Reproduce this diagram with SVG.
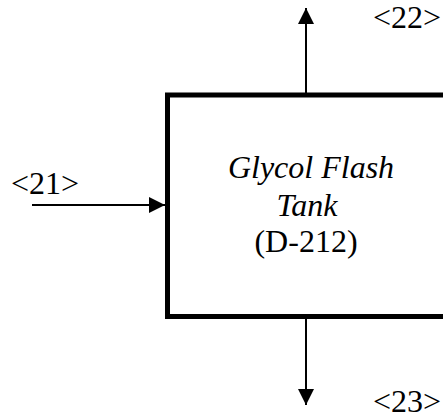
<svg xmlns="http://www.w3.org/2000/svg" width="443" height="419" viewBox="0 0 443 419">
<style>
.lbl{font-family:"Liberation Serif","Times New Roman",serif;font-size:32px;fill:#000}
.it{font-style:italic}
.conn{stroke:#000;stroke-width:2;fill:none}
.box{stroke:#000;stroke-width:5;fill:#fff}
</style>
<defs>
<marker id="ah" markerUnits="userSpaceOnUse" markerWidth="16" markerHeight="16" viewBox="0 0 16 16" refX="16" refY="8" orient="auto">
<path d="M0,0 L16,8 L0,16 Z" fill="#000"/>
</marker>
</defs>
<rect width="443" height="419" fill="#fff"/>
<g id="tank">
<rect class="box" x="167.5" y="95" width="300" height="221.5"/>
<text class="lbl it" x="311" y="178" text-anchor="middle">Glycol Flash</text>
<text class="lbl it" x="307" y="216" text-anchor="middle">Tank</text>
<text class="lbl" x="306" y="252" text-anchor="middle">(D-212)</text>
</g>
<g id="connectors">
<line class="conn" x1="32" y1="205" x2="165" y2="205" marker-end="url(#ah)"/>
<line class="conn" x1="306" y1="93" x2="306" y2="8" marker-end="url(#ah)"/>
<line class="conn" x1="306" y1="318" x2="306" y2="405" marker-end="url(#ah)"/>
</g>
<g id="labels">
<text class="lbl" x="11" y="194">&lt;21&gt;</text>
<text class="lbl" x="373" y="28">&lt;22&gt;</text>
<text class="lbl" x="373" y="412">&lt;23&gt;</text>
</g>
</svg>
